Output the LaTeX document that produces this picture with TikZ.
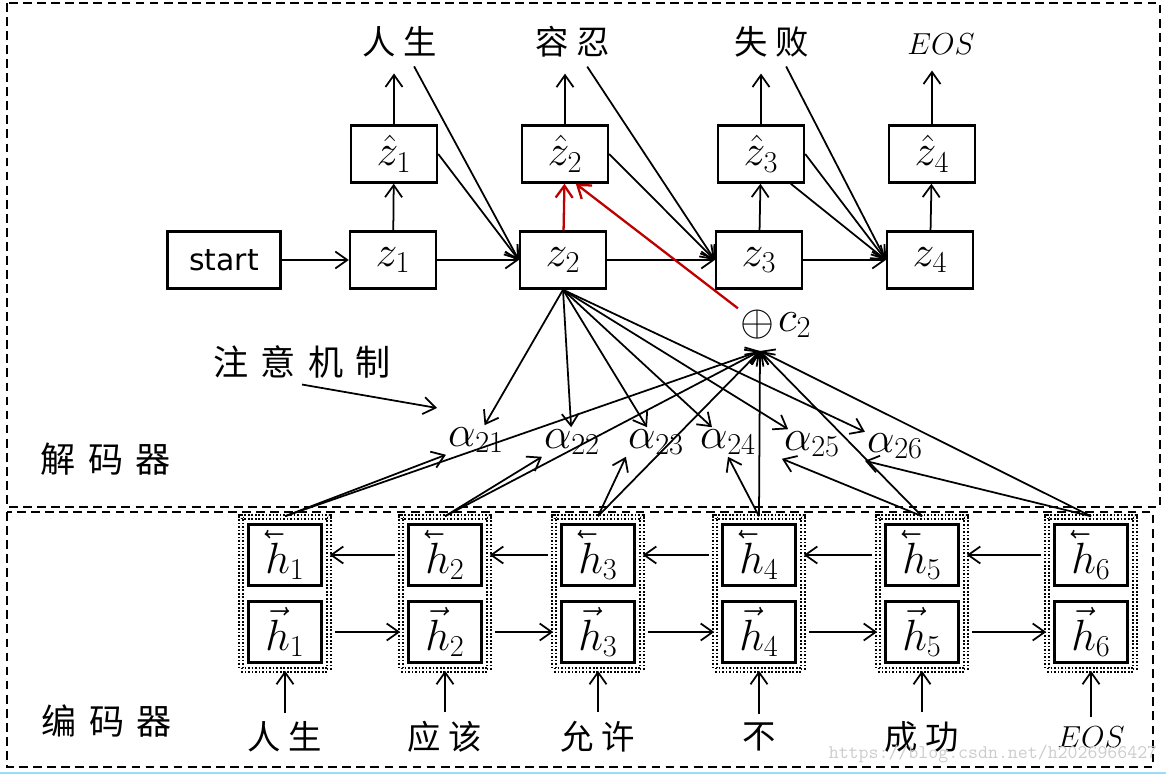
\documentclass[tikz,border=0pt]{standalone}
\usepackage{fontspec}
\usepackage{amsmath}
\newfontfamily\cjk[LetterSpace=22]{Noto Sans CJK SC}
\newfontfamily\cjkwide[LetterSpace=35]{Noto Sans CJK SC}
\newfontfamily\startfont{DejaVu Sans}
\usetikzlibrary{positioning}
\usetikzlibrary{arrows.meta}
\usetikzlibrary{fit}

\newcommand{\hfwd}[1]{\vec{h}_{#1}}
\newcommand{\hback}[1]{\reflectbox{$\vec{\reflectbox{$h$}}$}_{#1}}

\tikzset{
  box/.style={draw, line width=1.4pt, minimum width=1.72cm, minimum height=1.14cm, font=\fontsize{24}{28}\selectfont},
  hbox/.style={draw, line width=1.6pt, minimum width=1.46cm, minimum height=1.14cm, font=\fontsize{23}{27}\selectfont},
  grp/.style={draw, densely dotted, double, double distance=1pt, line width=1pt, inner sep=0.12cm},
  word/.style={font=\cjk\fontsize{19}{22}\selectfont, inner sep=5pt},
  lab/.style={font=\cjkwide\fontsize{20}{24}\selectfont},
  alf/.style={font=\fontsize{24}{28}\selectfont, inner sep=1pt},
  arr/.style={-{Straight Barb[length=2.4mm,width=3.4mm]}, line width=1pt},
  frame/.style={dash pattern=on 5pt off 3pt, line width=1.2pt},
}

\begin{document}
\begin{tikzpicture}[x=0.02cm, y=-0.02cm]
\useasboundingbox (0,0) rectangle (1166,780);

% dashed frames
\draw[frame] (7,3) rectangle (1160,507);
\draw[frame] (7,512) rectangle (1153,767);
\draw[cyan!40, line width=1.5pt] (0,773) -- (1166,773);

\node[lab] (dec) at (106,459) {解码器};
\node[lab] (enc) at (107,721) {编码器};
\node[lab] (attn) at (302,362) {注意机制};
\coordinate (attnend) at (437,408);
\draw[arr] (attn.south) -- (attnend);

% decoder
\node[word] (w1) at (400,42) {人生};
\node[word] (w2) at (573,42) {容忍};
\node[word] (w3) at (772,42) {失败};
\node[word] (w4) at (941,44) {\fontsize{18}{21}\selectfont$EOS$};

\node[box] (zh1) at (394,154) {$\hat{z}_1$};
\node[box] (zh2) at (565,154) {$\hat{z}_2$};
\node[box] (zh3) at (761,154) {$\hat{z}_3$};
\node[box] (zh4) at (932,154) {$\hat{z}_4$};

\node[box, minimum width=2.26cm, font=\startfont\fontsize{17}{20}\selectfont] (start) at (224,260) {start};
\node[box] (z1) at (393,260) {$z_1$};
\node[box] (z2) at (563,260) {$z_2$};
\node[box] (z3) at (759,260) {$z_3$};
\node[box] (z4) at (930,260) {$z_4$};

\draw[arr] (start) -- (z1);
\draw[arr] (z1) -- (z2);
\draw[arr] (z2) -- (z3);
\draw[arr] (z3) -- (z4);

\draw[arr] (z1) -- (zh1);
\draw[arr, red!75!black, line width=1.3pt] (z2) -- (zh2);
\draw[arr] (z3) -- (zh3);
\draw[arr] (z4) -- (zh4);

\foreach \i in {1,...,4}
  \draw[arr, shorten >=4pt] (zh\i.north) -- (zh\i.north |- w\i.south);

\draw[arr] (w1.-60) -- (z2.west);
\draw[arr] (zh1.east) -- (z2.west);
\draw[arr] (w2.-60) -- (z3.west);
\draw[arr] (zh2.east) -- (z3.west);
\draw[arr] (w3.-60) -- (z4.west);
\draw[arr] (zh3.east) -- (z4.west);
\draw[arr] (zh3.-45) -- (z4.west);

% context vector
\node[inner sep=1pt, font=\fontsize{23}{27}\selectfont] (plus) at (757,325) {$\oplus$};
\node[right=0pt of plus, inner sep=1pt, font=\fontsize{23}{27}\selectfont] (c2) {$c_2$};
\coordinate (cin) at (760,351);
\draw[arr, red!75!black, line width=1.3pt] (plus.north west) -- (zh2.-70);

% attention weights
\node[alf] (a21) at (476,440) {$\alpha_{21}$};
\node[alf] (a22) at (572,442) {$\alpha_{22}$};
\node[alf] (a23) at (656,442) {$\alpha_{23}$};
\node[alf] (a24) at (728,442) {$\alpha_{24}$};
\node[alf] (a25) at (812,444) {$\alpha_{25}$};
\node[alf] (a26) at (895,446) {$\alpha_{26}$};

\foreach \i in {1,...,6}
  \draw[arr] (z2.south) -- (a2\i);

% encoder
\foreach \i/\x/\w in {1/285/人生, 2/445/应该, 3/598/允许, 4/759/不, 5/922/成功, 6/1091/{\fontsize{18}{21}\selectfont$EOS$}} {
  \node[hbox] (hb\i) at (\x,555) {$\hback{\i}$};
  \node[hbox] (hf\i) at (\x,632) {$\hfwd{\i}$};
  \node[grp, fit=(hb\i)(hf\i)] (g\i) {};
  \node[word] (x\i) at (\x,737) {\w};
  \draw[arr] (x\i.north) -- (g\i.south);
  \draw[arr] (g\i.north) -- (cin);
}

\foreach \i/\j in {1/2, 2/3, 3/4, 4/5, 5/6} {
  \draw[arr, shorten <=3pt] (g\j.west |- hb\j) -- (g\i.east |- hb\i);
  \draw[arr, shorten <=3pt] (g\i.east |- hf\i) -- (g\j.west |- hf\j);
}

\draw[arr] (g1.north) -- (a21.south west);
\draw[arr] (g2.north) -- (a22.south west);
\draw[arr] (g3.north) -- (a23.south west);
\draw[arr] (g4.north) -- (a24.south);
\draw[arr] (g5.north) -- (a25.south west);
\draw[arr] (g6.north) -- (a26.south west);

\node[gray!40, font=\ttfamily\fontsize{11}{13}\selectfont] (wm) at (993,754) {https://blog.csdn.net/h2026966427};
\end{tikzpicture}
\end{document}
